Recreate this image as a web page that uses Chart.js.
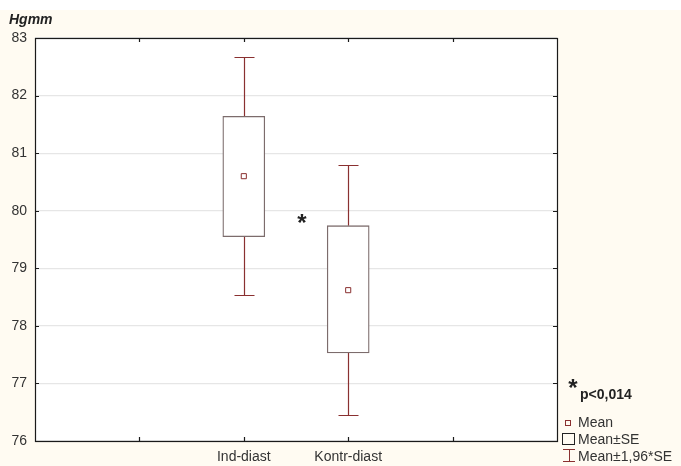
<!DOCTYPE html>
<html>
<head>
<meta charset="utf-8">
<script src="https://cdn.jsdelivr.net/npm/chart.js@4"></script>
<style>
html,body{margin:0;padding:0;background:#fff;}
#wrap{position:relative;width:681px;height:466px;}
canvas{display:block;}
</style>
</head>
<body>
<div id="wrap"><canvas id="c" width="681" height="466"></canvas></div>
<script>
const categories = ['', '', 'Ind-diast', 'Kontr-diast', '', ''];
const means = [null, null, 80.60, 78.62, null, null];
const seLow = [null, null, 79.55, 77.53, null, null];
const seHigh = [null, null, 81.64, 79.74, null, null];
const ciLow = [null, null, 78.54, 76.46, null, null];
const ciHigh = [null, null, 82.67, 80.80, null, null];
const yTicks = [76, 77, 78, 79, 80, 81, 82, 83];

const WHISKER = '#8a3030';
const BOXC = '#7c6c6c';
const CREAM = '#fffbf2';
const FONT = '"Liberation Sans", Arial, sans-serif';

const bgPlugin = {
  id: 'bg',
  beforeDraw(chart) {
    const ctx = chart.ctx, a = chart.chartArea;
    ctx.save();
    ctx.fillStyle = '#ffffff';
    ctx.fillRect(0, 0, chart.width, chart.height);
    ctx.fillStyle = CREAM;
    ctx.fillRect(0, 10, chart.width, chart.height - 10);
    ctx.fillStyle = '#ffffff';
    ctx.fillRect(a.left, a.top, a.right - a.left, a.bottom - a.top);
    ctx.restore();
  }
};

const whiskerPlugin = {
  id: 'whisk',
  beforeDatasetsDraw(chart) {
    const ctx = chart.ctx, xs = chart.scales.x, ys = chart.scales.y;
    ctx.save();
    ctx.strokeStyle = WHISKER;
    ctx.lineWidth = 1.2;
    for (let i = 0; i < categories.length; i++) {
      if (means[i] == null) continue;
      const x = Math.round(xs.getPixelForValue(i)) + 0.5;
      const pairs = [[seHigh[i], ciHigh[i]], [seLow[i], ciLow[i]]];
      pairs.forEach(([from, to]) => {
        const y1 = ys.getPixelForValue(from), y2 = Math.round(ys.getPixelForValue(to)) + 0.5;
        ctx.beginPath();
        ctx.moveTo(x, y1); ctx.lineTo(x, y2);
        ctx.moveTo(x - 10, y2); ctx.lineTo(x + 10, y2);
        ctx.stroke();
      });
    }
    ctx.restore();
  },
  afterDraw(chart) {
    const ctx = chart.ctx, a = chart.chartArea, xs = chart.scales.x, ys = chart.scales.y;
    ctx.save();
    ctx.strokeStyle = '#1a1a1a';
    ctx.lineWidth = 1.2;
    ctx.strokeRect(Math.round(a.left) + 0.5, Math.round(a.top) + 0.5, Math.round(a.right - a.left), Math.round(a.bottom - a.top));
    ctx.beginPath();
    for (let i = 1; i < categories.length - 1; i++) {
      const x = Math.round(xs.getPixelForValue(i)) + 0.5;
      ctx.moveTo(x, a.bottom); ctx.lineTo(x, a.bottom - 4);
      ctx.moveTo(x, a.top); ctx.lineTo(x, a.top + 4);
    }
    yTicks.forEach(v => {
      const y = Math.round(ys.getPixelForValue(v)) + 0.5;
      ctx.moveTo(a.left, y); ctx.lineTo(a.left + 4, y);
      ctx.moveTo(a.right, y); ctx.lineTo(a.right - 4, y);
    });
    ctx.stroke();

    ctx.fillStyle = '#222';
    ctx.textBaseline = 'middle';
    ctx.textAlign = 'left';
    ctx.font = 'italic bold 14px ' + FONT;
    ctx.fillText('Hgmm', 9, 20);

    ctx.font = 'bold 24px ' + FONT;
    ctx.textAlign = 'center';
    ctx.fillText('*', 302, 224);
    ctx.fillText('*', 573, 389);
    ctx.font = 'bold 14px ' + FONT;
    ctx.textAlign = 'left';
    ctx.fillText('p<0,014', 580, 395);

    ctx.font = '14px ' + FONT;
    ctx.fillStyle = '#333';
    ctx.fillText('Mean', 578, 423);
    ctx.fillText('Mean\u00b1SE', 578, 440);
    ctx.fillText('Mean\u00b11,96*SE', 578, 457);
    ctx.lineWidth = 1;
    ctx.strokeStyle = WHISKER;
    ctx.strokeRect(565.5, 420.5, 5, 5);
    ctx.strokeStyle = '#222';
    ctx.strokeRect(562.5, 433.5, 12, 11);
    ctx.strokeStyle = WHISKER;
    ctx.beginPath();
    ctx.moveTo(563, 449.5); ctx.lineTo(575, 449.5);
    ctx.moveTo(569.5, 449.5); ctx.lineTo(569.5, 461.5);
    ctx.moveTo(563, 461.5); ctx.lineTo(575, 461.5);
    ctx.stroke();
    ctx.restore();
  }
};

const boxData = categories.map((c, i) => seLow[i] == null ? null : [seLow[i], seHigh[i]]);

new Chart(document.getElementById('c'), {
  data: {
    labels: categories,
    datasets: [
      {
        type: 'bar',
        data: boxData,
        backgroundColor: '#ffffff',
        borderColor: BOXC,
        borderWidth: 1.3,
        borderSkipped: false,
        barThickness: 42,
        grouped: false,
        order: 2
      },
      {
        type: 'line',
        data: means,
        showLine: false,
        pointStyle: 'rect',
        pointRadius: 3.6,
        pointBackgroundColor: '#ffffff',
        pointBorderColor: WHISKER,
        pointBorderWidth: 1,
        order: 1
      }
    ]
  },
  options: {
    responsive: false,
    animation: false,
    events: [],
    layout: { padding: { left: 0, right: 124, top: 38, bottom: 0 } },
    plugins: { legend: { display: false }, tooltip: { enabled: false } },
    scales: {
      x: {
        type: 'category',
        offset: false,
        grid: { display: false, drawTicks: false },
        border: { display: false },
        ticks: {
          autoSkip: false, maxRotation: 0, padding: 8,
          color: '#333', font: { family: FONT, size: 14 }
        },
        afterFit(s) { s.height = 25; }
      },
      y: {
        min: 76, max: 83,
        grid: { color: '#e6e6e6', lineWidth: 1.2, drawTicks: false },
        border: { display: false },
        ticks: {
          stepSize: 1, padding: 8,
          color: '#333', font: { family: FONT, size: 14 }
        },
        afterFit(s) { s.width = 35; }
      }
    }
  },
  plugins: [bgPlugin, whiskerPlugin]
});
</script>
</body>
</html>
